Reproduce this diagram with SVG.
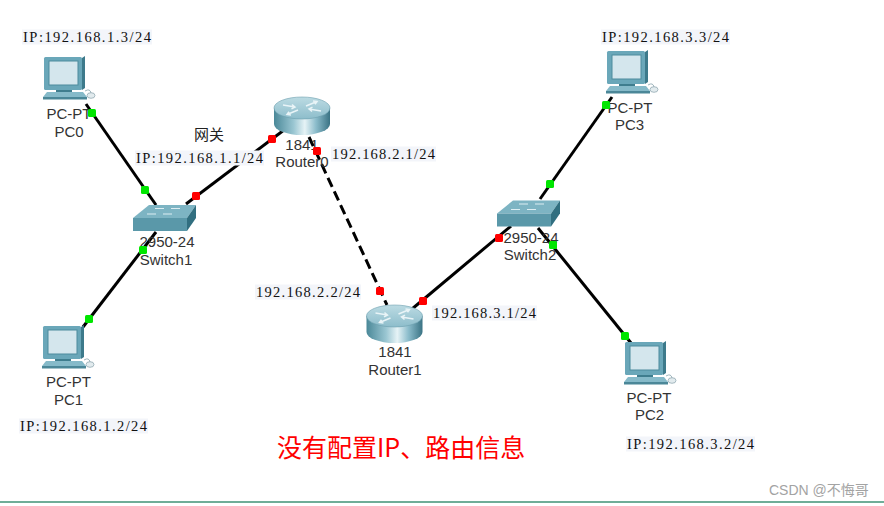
<svg xmlns="http://www.w3.org/2000/svg" width="884" height="506" viewBox="0 0 884 506">
<style>
.lbl{font-family:"Liberation Sans","Noto Sans",sans-serif;font-size:15px;fill:#333;text-anchor:middle}
.ip{font-family:"Liberation Serif",serif;font-size:14.5px;fill:#111}
.ipbg{fill:#f3f5fa}
.cable{stroke:#000;stroke-width:3;fill:none;stroke-linecap:butt}
.dash{stroke-dasharray:10 5}
.up{fill:#00e600}
.down{fill:#ff0000}
.arr{stroke:#e9f4f7;stroke-width:1.5;fill:none}
</style>
<defs>
<linearGradient id="rside" x1="0" y1="0" x2="1" y2="0">
<stop offset="0" stop-color="#4a8898"/>
<stop offset="0.35" stop-color="#9ac6d2"/>
<stop offset="0.55" stop-color="#e6f3f6"/>
<stop offset="0.75" stop-color="#8bbccb"/>
<stop offset="1" stop-color="#3a7384"/>
</linearGradient>
<linearGradient id="rtop" x1="0" y1="0" x2="0" y2="1">
<stop offset="0" stop-color="#bcdbe3"/>
<stop offset="1" stop-color="#8dbdcb"/>
</linearGradient>
<g id="pcIcon">
<rect x="0" y="0" width="38" height="33" rx="1.5" fill="#6aa7b9"/>
<polygon points="38,1 41,-1 41,31 38,33" fill="#3d7a8b"/>
<rect x="5" y="4" width="29" height="24" fill="#d4e6ed" stroke="#4d8b9d" stroke-width="1"/>
<rect x="12" y="33" width="16" height="3" fill="#3f7d8e"/>
<polygon points="3,35 39,35 43,40 -1,40" fill="#86bac9"/>
<rect x="-1" y="40" width="44" height="2.5" fill="#4b8798"/>
<path d="M41,34 q5,-3 6,2" stroke="#9fb5bc" stroke-width="1" fill="none"/>
<ellipse cx="47" cy="38.5" rx="4" ry="2.8" fill="#e2ebee" stroke="#93aab2" stroke-width="0.8"/>
</g>
<g id="routerIcon">
<path d="M-28,0 V16 A28,11 0 0 0 28,16 V0 Z" fill="url(#rside)"/>
<ellipse cx="0" cy="0" rx="28" ry="11" fill="url(#rtop)" stroke="#6d9fae" stroke-width="0.6"/>
<path class="arr" d="M-19,-3 L-7,-1 M-10,-3.5 L-7,-1 L-10.5,0.8"/>
<path class="arr" d="M19,3 L7,1 M10,3.5 L7,1 L10.5,-0.8"/>
<path class="arr" d="M4,-2 L15,-6.5 M11,-7 L15,-6.5 L13,-3.8"/>
<path class="arr" d="M-4,2 L-15,6.5 M-11,7 L-15,6.5 L-13,3.8"/>
</g>
<g id="switchIcon">
<polygon points="0,0 16,-13 63,-13 54,0" fill="#7db4c3"/>
<polygon points="0,0 54,0 54,13 0,13" fill="#5a98a9"/>
<polygon points="54,0 63,-13 63,0 54,13" fill="#316f80"/>
<path d="M14,-4 h9 M30,-4 h9 M22,-9.5 h9 M38,-9.5 h9" stroke="#dcedf2" stroke-width="1" fill="none"/>
</g>
</defs>
<rect width="884" height="506" fill="#ffffff"/>

<g id="connectors">
<line class="cable" x1="86" y1="104" x2="156" y2="205"/>
<line class="cable" x1="186" y1="204" x2="284" y2="130"/>
<line class="cable" x1="156" y1="232" x2="83" y2="327"/>
<line class="cable dash" x1="309" y1="137" x2="387" y2="305"/>
<line class="cable" x1="412" y1="309" x2="511" y2="226"/>
<line class="cable" x1="540" y1="199" x2="612" y2="97"/>
<line class="cable" x1="538" y1="228" x2="631" y2="343"/>
</g>

<g id="PC0">
<use href="#pcIcon" transform="translate(44,57)"/>
<text class="lbl" x="69" y="119">PC-PT</text>
<text class="lbl" x="69" y="137">PC0</text>
</g>
<g id="PC1">
<use href="#pcIcon" transform="translate(43,326)"/>
<text class="lbl" x="68.5" y="387">PC-PT</text>
<text class="lbl" x="68.5" y="404.5">PC1</text>
</g>
<g id="PC3">
<use href="#pcIcon" transform="translate(607,51)"/>
<text class="lbl" x="630" y="112.5">PC-PT</text>
<text class="lbl" x="629.5" y="129.5">PC3</text>
</g>
<g id="PC2">
<use href="#pcIcon" transform="translate(625,342)"/>
<text class="lbl" x="649" y="403">PC-PT</text>
<text class="lbl" x="649.5" y="420">PC2</text>
</g>
<g id="Router0">
<use href="#routerIcon" transform="translate(302,108)"/>
<text class="lbl" x="302" y="150">1841</text>
<text class="lbl" x="302" y="167">Router0</text>
</g>
<g id="Router1">
<use href="#routerIcon" transform="translate(394.5,316)"/>
<text class="lbl" x="395" y="357">1841</text>
<text class="lbl" x="395" y="375">Router1</text>
</g>
<g id="Switch1">
<use href="#switchIcon" transform="translate(133,218)"/>
<text class="lbl" x="167" y="247">2950-24</text>
<text class="lbl" x="166" y="265">Switch1</text>
</g>
<g id="Switch2">
<use href="#switchIcon" transform="translate(497,213.5)"/>
<text class="lbl" x="531" y="242.5">2950-24</text>
<text class="lbl" x="530" y="260">Switch2</text>
</g>

<g id="ports">
<rect class="up" x="88" y="109" width="8" height="8" rx="1.5"/>
<rect class="up" x="141" y="186" width="8" height="8" rx="1.5"/>
<rect class="up" x="139" y="246" width="8" height="8" rx="1.5"/>
<rect class="up" x="85" y="315" width="8" height="8" rx="1.5"/>
<rect class="up" x="546" y="180" width="8" height="8" rx="1.5"/>
<rect class="up" x="602" y="101" width="8" height="8" rx="1.5"/>
<rect class="up" x="549" y="241" width="8" height="8" rx="1.5"/>
<rect class="up" x="621" y="332" width="8" height="8" rx="1.5"/>
<rect class="down" x="192" y="192" width="8" height="8" rx="1.5"/>
<rect class="down" x="268" y="135" width="8" height="8" rx="1.5"/>
<rect class="down" x="313" y="147" width="8" height="8" rx="1.5"/>
<rect class="down" x="376" y="287" width="8" height="8" rx="1.5"/>
<rect class="down" x="419" y="297" width="8" height="8" rx="1.5"/>
<rect class="down" x="495" y="234" width="8" height="8" rx="1.5"/>
</g>

<g id="labels">
<rect class="ipbg" x="22" y="29.5" width="130" height="15"/>
<text class="ip" x="23" y="42" textLength="128" lengthAdjust="spacing">IP:192.168.1.3/24</text>
<rect class="ipbg" x="135" y="150.5" width="129" height="15"/>
<text class="ip" x="136" y="163" textLength="127" lengthAdjust="spacing">IP:192.168.1.1/24</text>
<rect class="ipbg" x="331" y="146.5" width="105" height="15"/>
<text class="ip" x="332" y="159" textLength="103" lengthAdjust="spacing">192.168.2.1/24</text>
<rect class="ipbg" x="255" y="284.5" width="106" height="15"/>
<text class="ip" x="256" y="297" textLength="104" lengthAdjust="spacing">192.168.2.2/24</text>
<rect class="ipbg" x="432" y="305.5" width="105" height="15"/>
<text class="ip" x="433" y="318" textLength="103" lengthAdjust="spacing">192.168.3.1/24</text>
<rect class="ipbg" x="601" y="29.5" width="129" height="15"/>
<text class="ip" x="602" y="42" textLength="127" lengthAdjust="spacing">IP:192.168.3.3/24</text>
<rect class="ipbg" x="19" y="418.5" width="129" height="15"/>
<text class="ip" x="20" y="431" textLength="127" lengthAdjust="spacing">IP:192.168.1.2/24</text>
<rect class="ipbg" x="626" y="436.5" width="129" height="15"/>
<text class="ip" x="627" y="449" textLength="127" lengthAdjust="spacing">IP:192.168.3.2/24</text>
<text x="209" y="140" text-anchor="middle" style="font-family:'Noto Sans CJK SC',sans-serif;font-size:15px;fill:#222">网关</text>
<text x="277" y="456.5" style="font-family:'Noto Sans CJK SC',sans-serif;font-size:25px;fill:#ff0000">没有配置IP、路由信息</text>
<text x="769" y="495" style="font-family:'Liberation Sans','Noto Sans CJK SC',sans-serif;font-size:14px;fill:#a3a3a3">CSDN @不悔哥</text>
</g>
<line x1="0" y1="502" x2="884" y2="502" stroke="#3f9276" stroke-width="1.5"/>
</svg>
